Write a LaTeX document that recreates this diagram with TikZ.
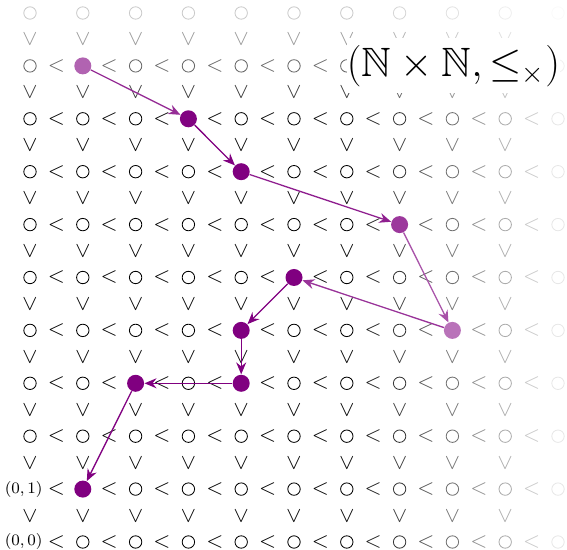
\documentclass[tikz,border=0pt]{standalone}
\usepackage{amssymb}
\usetikzlibrary{arrows.meta}
\begin{document}
\begin{tikzpicture}[x=26.4pt,y=26.45pt,
  gridcirc/.style={circle,draw=black!#1,line width=0.42pt,minimum size=6.2pt,inner sep=0pt},
  ltsym/.style={text=black!#1,inner sep=0pt,font=\fontsize{11}{13}\selectfont},
  dot/.style={circle,fill=violet!#1,minimum size=8.5pt,inner sep=0pt},
  arr/.style={draw=violet!#1,line width=0.65pt,-{Stealth[length=6pt,width=5pt,inset=2pt]}},
  coordlabel/.style={anchor=east,inner sep=0pt,font=\fontsize{7.6}{9}\selectfont}
]
\useasboundingbox (-15pt,-4pt) rectangle (268.5pt,271pt);
% grid circles
\foreach \c in {0,...,10}{
  \foreach \r in {0,...,10}{
    \pgfmathsetmacro\op{100*min(1,(580-(30+52.8*\c))/230)*min(1,(557-52.9*\r)/135)}
    \pgfmathtruncatemacro\skipme{(\c==0)&&(\r<2)}
    \ifnum\skipme=0
      \node[gridcirc=\op] (g-\c-\r) at (\c,\r) {};
    \fi
  }
}
% horizontal relations (those hidden under the title are left out)
\foreach \c in {0,...,9}{
  \foreach \r in {0,...,9}{
    \pgfmathsetmacro\op{100*min(1,(580-(30+52.8*(\c+0.5)))/230)*min(1,(557-52.9*\r)/135)}
    \pgfmathtruncatemacro\skipme{(\r==9)&&(\c>5)}
    \ifnum\skipme=0
      \node[ltsym=\op] (h-\c-\r) at (\c+0.5,\r) {$<$};
    \fi
  }
}
% vertical relations
\foreach \c in {0,...,9}{
  \foreach \r in {0,...,9}{
    \pgfmathsetmacro\op{100*min(1,(580-(30+52.8*\c))/230)*min(1,(557-52.9*(\r+0.5))/135)}
    \node[ltsym=\op,rotate=90] (v-\c-\r) at (\c,\r+0.5) {$<$};
  }
}
% coordinate labels
\node[coordlabel] (l00) at ([xshift=6.5pt]0,0) {$(0,0)$};
\node[coordlabel] (l01) at ([xshift=6.5pt]0,1) {$(0,1)$};
% title
\node[fill=white,inner sep=0pt,minimum width=104pt,minimum height=27.5pt,
      font=\fontsize{20.5}{24}\selectfont] (title) at ([xshift=0.5pt]8,9) {$(\mathbb{N}\times\mathbb{N},\leq_{\times})$};
% path dots
\node[dot=61] (p1) at (1,9) {};
\node[dot=99] (p2) at (3,8) {};
\node[dot=100] (p3) at (4,7) {};
\node[dot=78] (p4) at (7,6) {};
\node[dot=55] (p5) at (8,4) {};
\node[dot=100] (p6) at (5,5) {};
\node[dot=100] (p7) at (4,4) {};
\node[dot=100] (p8) at (4,3) {};
\node[dot=100] (p9) at (2,3) {};
\node[dot=100] (p10) at (1,1) {};
% arrows
\draw[arr=82] (p1) -- (p2);
\draw[arr=100] (p2) -- (p3);
\draw[arr=88] (p3) -- (p4);
\draw[arr=68] (p4) -- (p5);
\draw[arr=80] (p5) -- (p6);
\draw[arr=100] (p6) -- (p7);
\draw[arr=100] (p7) -- (p8);
\draw[arr=100] (p8) -- (p9);
\draw[arr=100] (p9) -- (p10);
\end{tikzpicture}
\end{document}
